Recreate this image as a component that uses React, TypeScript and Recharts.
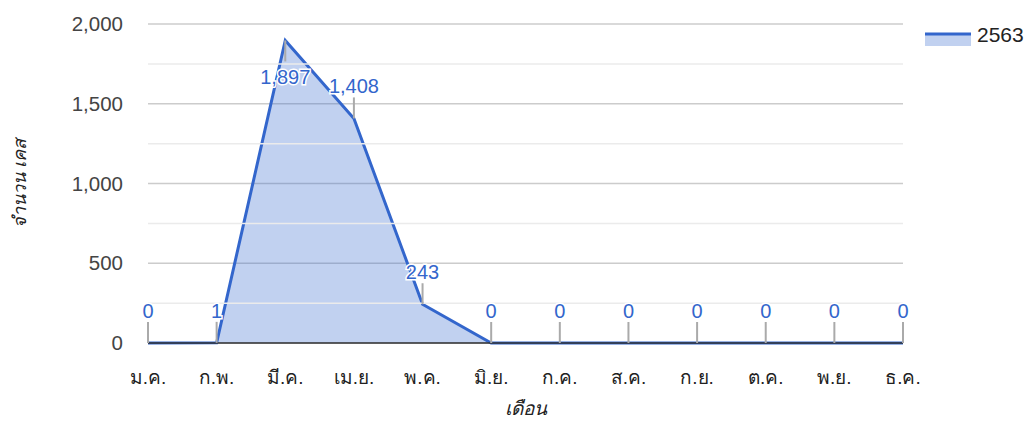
import React from 'react';
import { AreaChart, Area, XAxis, YAxis, CartesianGrid, ReferenceLine, LabelList, Label } from 'recharts';

const months = ['ม.ค.', 'ก.พ.', 'มี.ค.', 'เม.ย.', 'พ.ค.', 'มิ.ย.', 'ก.ค.', 'ส.ค.', 'ก.ย.', 'ต.ค.', 'พ.ย.', 'ธ.ค.'];
const cases2563 = [0, 1, 1897, 1408, 243, 0, 0, 0, 0, 0, 0, 0];
const majorTicks = [0, 500, 1000, 1500, 2000];
const minorTicks = [250, 750, 1250, 1750];
const seriesName = '2563';
const xTitle = 'เดือน';
const yTitle = 'จำนวน เคส';

const data = months.map((m, i) => ({ month: m, value: cases2563[i] }));

const FONT = "Arial, 'Liberation Sans', sans-serif";
const BLUE = '#3366cc';
const PLOT_TOP = 24;

const fmt = (v: number) => v.toLocaleString('en-US');

const YTick = (props: any) => {
  const { x, y, payload } = props;
  return (
    <text x={x - 17} y={y} dy={7} textAnchor="end" fill="#444" fontSize={20.5} fontFamily={FONT}>
      {fmt(payload.value)}
    </text>
  );
};

const XTick = (props: any) => {
  const { x, y, payload } = props;
  return (
    <text x={x} y={y + 33} textAnchor="middle" fill="#222" fontSize={19} fontFamily={FONT}>
      {payload.value}
    </text>
  );
};

const Annotation = (props: any) => {
  const { x, y, value } = props;
  const below = y - 40 < PLOT_TOP;
  const stemEnd = below ? y + 21 : y - 21;
  const textY = below ? y + 44 : y - 25;
  return (
    <g>
      <line x1={x} y1={y} x2={x} y2={stemEnd} stroke="#aaa" strokeWidth={2} />
      <text
        x={x}
        y={textY}
        textAnchor="middle"
        fill={BLUE}
        fontSize={20}
        fontFamily={FONT}
        stroke="#fff"
        strokeWidth={3}
        paintOrder="stroke"
      >
        {fmt(value)}
      </text>
    </g>
  );
};

const XTitle = (props: any) => {
  const vb = props.viewBox;
  return (
    <text x={vb.x + vb.width / 2} y={vb.y + 72} textAnchor="middle" fill="#222" fontSize={19} fontStyle="italic" fontFamily={FONT}>
      {xTitle}
    </text>
  );
};

const YTitle = (props: any) => {
  const vb = props.viewBox;
  const cx = 20;
  const cy = vb.y + vb.height / 2;
  return (
    <text
      x={cx}
      y={cy}
      transform={`rotate(-90 ${cx} ${cy})`}
      textAnchor="middle"
      dominantBaseline="central"
      fill="#222"
      fontSize={18}
      fontStyle="italic"
      fontFamily={FONT}
    >
      {yTitle}
    </text>
  );
};

export default function App() {
  return (
    <div style={{ position: 'absolute', left: 0, top: 0, width: 1030, height: 421, background: '#fff' }}>
      <AreaChart width={1030} height={421} data={data} margin={{ top: PLOT_TOP, right: 127, bottom: 0, left: 0 }}>
        <CartesianGrid vertical={false} stroke="#cccccc" strokeWidth={1.5} />
        {minorTicks.map((t) => (
          <ReferenceLine key={t} y={t} stroke="#ebebeb" strokeWidth={1.5} />
        ))}
        <XAxis
          dataKey="month"
          height={78}
          interval={0}
          tickLine={false}
          axisLine={{ stroke: '#333', strokeWidth: 1.5 }}
          tick={<XTick />}
          padding={{ left: 0, right: 0 }}
        >
          <Label content={<XTitle />} />
        </XAxis>
        <YAxis
          width={148}
          domain={[0, 2000]}
          ticks={majorTicks}
          axisLine={false}
          tickLine={false}
          tick={<YTick />}
        >
          <Label content={<YTitle />} />
        </YAxis>
        <Area
          type="linear"
          dataKey="value"
          name={seriesName}
          stroke={BLUE}
          strokeWidth={3}
          fill={BLUE}
          fillOpacity={0.3}
          isAnimationActive={false}
          dot={false}
          activeDot={false}
        >
          <LabelList dataKey="value" content={<Annotation />} />
        </Area>
      </AreaChart>
      <div style={{ position: 'absolute', left: 925, top: 22, display: 'flex', alignItems: 'center' }}>
        <svg width={46} height={26}>
          <rect x={0} y={12} width={46} height={12} fill={BLUE} fillOpacity={0.3} />
          <line x1={0} y1={12} x2={46} y2={12} stroke={BLUE} strokeWidth={3} />
        </svg>
        <span style={{ fontFamily: FONT, fontSize: 21, color: '#222', marginLeft: 6 }}>{seriesName}</span>
      </div>
    </div>
  );
}
